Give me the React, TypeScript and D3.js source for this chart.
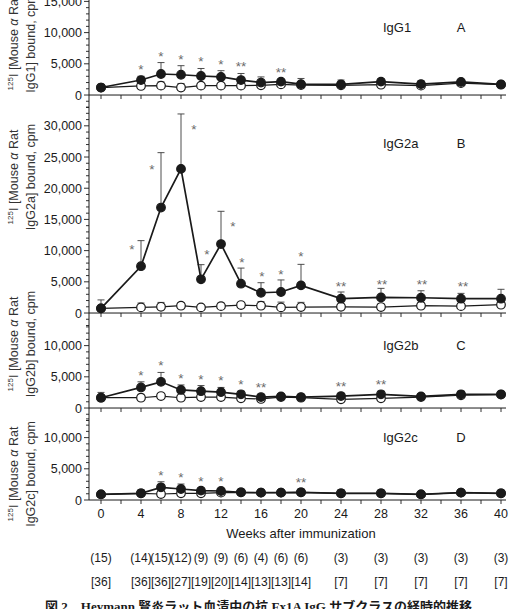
import React from "react";
import * as d3 from "d3";

// Time points (weeks after immunization)
const weeks = [0, 4, 6, 8, 10, 12, 14, 16, 18, 20, 24, 28, 32, 36, 40];

// IgG1 (panel A)
const g1Mean = [1200, 2400, 3370, 3250, 3050, 2900, 2400, 2000, 2150, 1750, 1700, 2150, 1750, 2100, 1700];
const g1Sd = [100, 600, 1830, 1450, 1200, 1000, 1050, 900, 350, 900, 700, 450, 550, 300, 500];
const g1CtlMean = [1200, 1450, 1500, 1200, 1500, 1500, 1500, 1550, 1700, 1600, 1550, 1650, 1500, 1900, 1650];
const g1CtlSd = [100, 400, 600, 650, 300, 300, 300, 300, 300, 300, 300, 300, 300, 300, 300];
const g1Sig = ["", "*", "*", "*", "*", "*", "**", "", "**", "", "", "", "", "", ""];

// IgG2a (panel B)
const g2aMean = [750, 7500, 16900, 23100, 5400, 11050, 4700, 3250, 3370, 4430, 2300, 2500, 2450, 2300, 2300];
const g2aSd = [1350, 4100, 8800, 8800, 2350, 5250, 2500, 1610, 1930, 3370, 1070, 1450, 1120, 850, 1500];
const g2aCtlMean = [750, 900, 1000, 1170, 900, 1100, 1280, 1170, 900, 960, 1000, 960, 1170, 1100, 1330];
const g2aCtlSd = [300, 700, 700, 500, 400, 500, 400, 650, 850, 750, 400, 500, 500, 400, 400];
const g2aSig = ["", "*", "*", "*", "*", "*", "*", "*", "*", "*", "**", "**", "**", "**", ""];
// significance marks of panel B sit beside the bars: anchor in (week, cpm)
const g2aSigWeek = [0, 3.1, 5.1, 9.3, 10.6, 13.2, 14.1, 16.1, 18, 20, 24, 28.1, 32.1, 36.2, 40];
const g2aSigCpm = [0, 10600, 23400, 29800, 9800, 14300, 8500, 6250, 6600, 9450, 4650, 5000, 5000, 4600, 0];

// IgG2b (panel C)
const g2bMean = [1650, 3300, 4200, 2900, 2700, 2550, 2200, 1760, 1870, 1760, 1920, 2200, 1870, 2200, 2200];
const g2bSd = [850, 900, 1500, 800, 900, 750, 500, 440, 330, 440, 430, 500, 430, 500, 400];
const g2bCtlMean = [1650, 1650, 1920, 1650, 1760, 1760, 1550, 1450, 1760, 1650, 1390, 1550, 1760, 2050, 2150];
const g2bCtlSd = [300, 550, 400, 300, 300, 300, 300, 300, 300, 300, 300, 300, 300, 300, 300];
const g2bSig = ["", "*", "*", "*", "*", "*", "*", "**", "", "", "**", "**", "", "", ""];

// IgG2c (panel D)
const g2cMean = [900, 1070, 2030, 1760, 1500, 1440, 1230, 1180, 1180, 1230, 1070, 1070, 900, 1180, 1070];
const g2cSd = [400, 530, 900, 800, 420, 430, 370, 520, 350, 500, 560, 500, 300, 500, 400];
const g2cCtlMean = [900, 1070, 960, 1070, 1070, 1180, 1230, 1180, 1180, 1230, 1070, 1070, 900, 1180, 1070];
const g2cCtlSd = [200, 300, 300, 300, 300, 300, 300, 300, 300, 300, 300, 300, 300, 300, 300];
const g2cSig = ["", "", "*", "*", "*", "*", "", "", "", "**", "", "", "", "", ""];

// Number of animals per time point
const nImmunized = [15, 14, 15, 12, 9, 9, 6, 4, 6, 6, 3, 3, 3, 3, 3];
const nTotal = [36, 36, 36, 27, 19, 20, 14, 13, 13, 14, 7, 7, 7, 7, 7];

const xTicks = [0, 4, 8, 12, 16, 20, 24, 28, 32, 36, 40];

const FONT = "'Liberation Sans', Arial, Helvetica, sans-serif";
const INK = "#1a1a1a";

type Panel = {
  name: string;
  letter: string;
  sub: string;
  mean: number[];
  sd: number[];
  ctl: number[];
  ctlSd: number[];
  sig: string[];
  sigWeek?: number[];
  sigCpm?: number[];
  lo: number;
  hi: number;
  labelMax: number;
  top: number;
  bottom: number;
  titleY: number;
  nameY: number;
};

const panels: Panel[] = [
  { name: "IgG1", letter: "A", sub: "IgG1", mean: g1Mean, sd: g1Sd, ctl: g1CtlMean, ctlSd: g1CtlSd, sig: g1Sig,
    lo: -2000, hi: 15000, labelMax: 15000, top: 1.4, bottom: 107.5, titleY: 43, nameY: 27 },
  { name: "IgG2a", letter: "B", sub: "IgG2a", mean: g2aMean, sd: g2aSd, ctl: g2aCtlMean, ctlSd: g2aCtlSd, sig: g2aSig,
    sigWeek: g2aSigWeek, sigCpm: g2aSigCpm,
    lo: -2000, hi: 33000, labelMax: 30000, top: 107.1, bottom: 325.5, titleY: 177, nameY: 143 },
  { name: "IgG2b", letter: "C", sub: "IgG2b", mean: g2bMean, sd: g2bSd, ctl: g2bCtlMean, ctlSd: g2bCtlSd, sig: g2bSig,
    lo: -2000, hi: 13000, labelMax: 10000, top: 326.9, bottom: 420.5, titleY: 344, nameY: 345 },
  { name: "IgG2c", letter: "D", sub: "IgG2c", mean: g2cMean, sd: g2cSd, ctl: g2cCtlMean, ctlSd: g2cCtlSd, sig: g2cSig,
    lo: 0, hi: 13000, labelMax: 10000, top: 418.9, bottom: 500, titleY: 474, nameY: 437 },
];

const x = d3.scaleLinear().domain([0, 40]).range([101, 501]);
const AXIS_X = 89;

function Series({ values, sd, y, filled }: { values: number[]; sd: number[]; y: d3.ScaleLinear<number, number>; filled: boolean }) {
  const line = d3
    .line<number>()
    .x((_, i) => x(weeks[i]))
    .y((v) => y(v));
  return (
    <g>
      {values.map((v, i) => {
        const cx = x(weeks[i]);
        const y0 = y(v);
        const y1 = y(v + sd[i]);
        return (
          <g key={"e" + i} stroke="#3a3a3a" strokeWidth={0.9}>
            <line x1={cx} x2={cx} y1={y0} y2={y1} />
            <line x1={cx - 3.5} x2={cx + 3.5} y1={y1} y2={y1} />
          </g>
        );
      })}
      <path d={line(values) || ""} fill="none" stroke={INK} strokeWidth={filled ? 1.7 : 1.2} />
      {values.map((v, i) => (
        <circle
          key={"c" + i}
          cx={x(weeks[i])}
          cy={y(v)}
          r={4.3}
          fill={filled ? INK : "#fff"}
          stroke={INK}
          strokeWidth={1.2}
        />
      ))}
    </g>
  );
}

function PanelView({ p }: { p: Panel }) {
  const y = d3.scaleLinear().domain([p.lo, p.hi]).range([p.bottom, p.top]);
  const ticks = d3.range(p.lo, p.hi + 1, 1000);
  const fmt = d3.format(",");
  const zero = y(0);
  const axisTicks = d3.range(0, 41, 2);
  const titleCenter = p.titleY;
  return (
    <g>
      {/* y ticks */}
      {ticks.map((t) => {
        const major = t % 5000 === 0 && t >= 0 && t <= p.labelMax;
        return (
          <g key={t}>
            <line x1={AXIS_X - (major ? 5 : 3)} x2={AXIS_X} y1={y(t)} y2={y(t)} stroke={INK} strokeWidth={0.9} />
            {major && (
              <text x={AXIS_X - 7} y={y(t)} dy="0.36em" textAnchor="end" fontSize={12.5} fontFamily={FONT} fill={INK}>
                {fmt(t)}
              </text>
            )}
          </g>
        );
      })}
      {/* x axis at zero */}
      <line x1={AXIS_X} x2={506} y1={zero} y2={zero} stroke={INK} strokeWidth={1} />
      {axisTicks.map((w) => (
        <line key={w} x1={x(w)} x2={x(w)} y1={zero} y2={zero + 4} stroke={INK} strokeWidth={0.9} />
      ))}
      {/* y title */}
      <text
        transform={`translate(17.5, ${titleCenter}) rotate(-90)`}
        textAnchor="middle"
        fontSize={12.5}
        fontFamily={FONT}
        fill="#333"
      >
        <tspan fontSize={8} dy={-5}>125</tspan>
        <tspan dy={5}>I [Mouse </tspan>
        <tspan fontStyle="italic">α</tspan>
        <tspan> Rat</tspan>
      </text>
      <text
        transform={`translate(34.5, ${titleCenter}) rotate(-90)`}
        textAnchor="middle"
        fontSize={12.5}
        fontFamily={FONT}
        fill="#333"
      >
        {p.sub}] bound, cpm
      </text>
      {/* panel name */}
      <text x={383} y={p.nameY} dy="0.36em" fontSize={13} fontFamily={FONT} fill={INK}>
        {p.name}
      </text>
      <text x={461} y={p.nameY} dy="0.36em" textAnchor="middle" fontSize={13} fontFamily={FONT} fill={INK}>
        {p.letter}
      </text>
      <Series values={p.ctl} sd={p.ctlSd} y={y} filled={false} />
      <Series values={p.mean} sd={p.sd} y={y} filled={true} />
      {/* significance marks */}
      {p.sig.map((s, i) => {
        if (!s) return null;
        const sx = p.sigWeek ? x(p.sigWeek[i]) : x(weeks[i]);
        const sy = p.sigCpm ? y(p.sigCpm[i]) : y(p.mean[i] + p.sd[i]) - 9;
        return (
          <text key={"s" + i} x={sx} y={sy + 7} textAnchor="middle" fontSize={13.5} fontFamily={FONT} fill="#6a6a6a">
            {s}
          </text>
        );
      })}
    </g>
  );
}

export default function App() {
  const colX = (i: number) => x(weeks[i]);
  return (
    <svg width={519} height={609} style={{ position: "absolute", left: 0, top: 0, background: "#fff" }}>
      <rect width={519} height={609} fill="#fff" />
      {panels.map((p) => (
        <PanelView key={p.name} p={p} />
      ))}
      {/* continuous y axis spine */}
      <line x1={AXIS_X} x2={AXIS_X} y1={0} y2={500} stroke={INK} strokeWidth={1} />
      {/* week labels */}
      {xTicks.map((w) => (
        <text key={w} x={x(w)} y={513} dy="0.36em" textAnchor="middle" fontSize={12.5} fontFamily={FONT} fill={INK}>
          {w}
        </text>
      ))}
      <text x={301} y={533} dy="0.36em" textAnchor="middle" fontSize={13} fontFamily={FONT} fill={INK}>
        Weeks after immunization
      </text>
      {nImmunized.map((n, i) => (
        <text key={"n" + i} x={colX(i)} y={558} dy="0.36em" textAnchor="middle" fontSize={12} fontFamily={FONT} fill={INK}>
          ({n})
        </text>
      ))}
      {nTotal.map((n, i) => (
        <text key={"t" + i} x={colX(i)} y={582} dy="0.36em" textAnchor="middle" fontSize={12} fontFamily={FONT} fill={INK}>
          [{n}]
        </text>
      ))}
      <text x={45} y={611} fontSize={13} fontWeight="bold" fontFamily="'Liberation Serif', 'Noto Sans CJK JP', serif" fill={INK}>
        図 2{"\u2003"}Heymann 腎炎ラット血清中の抗 Fx1A IgG サブクラスの経時的推移
      </text>
    </svg>
  );
}
